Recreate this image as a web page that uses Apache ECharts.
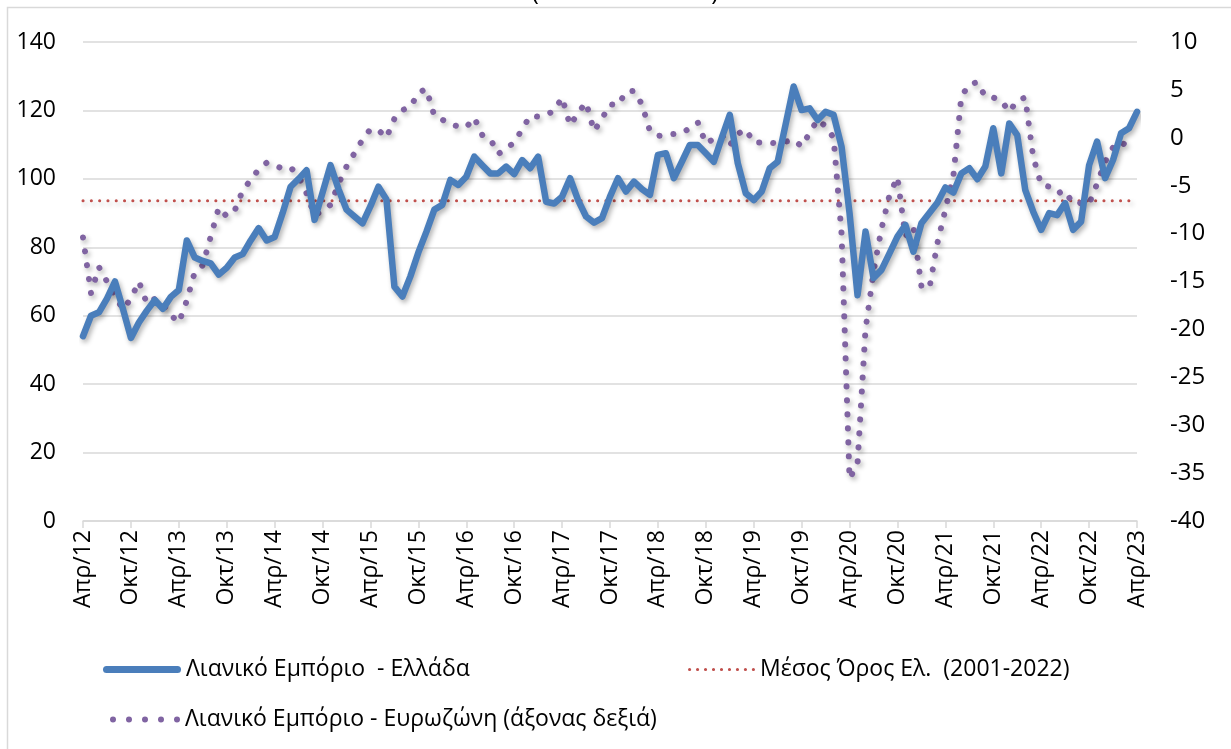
<!DOCTYPE html>
<html>
<head>
<meta charset="utf-8">
<title>Λιανικό Εμπόριο</title>
<script src="https://cdn.jsdelivr.net/npm/echarts@6/dist/echarts.min.js"></script>
<style>
  html, body { margin: 0; padding: 0; background: #fff; }
  #chart { width: 1231px; height: 749px; }
</style>
</head>
<body>
<div id="chart"></div>
<script>
// months Apr/12 .. Apr/23
const monthNames = ['Ιαν', 'Φεβ', 'Μαρ', 'Απρ', 'Μαϊ', 'Ιουν', 'Ιουλ', 'Αυγ', 'Σεπ', 'Οκτ', 'Νοε', 'Δεκ']
const startYear = 2012, startMonth = 3, monthCount = 133

const greece = [
  54, 60, 61, 65, 70, 62, 53.5, 58, 61.5, 64.6, 62, 65.5, 67.5, 82,
  77, 76, 75.3, 72, 74, 77, 78, 82, 85.6, 82, 83, 90, 97.7, 100, 102.5,
  88, 96, 104, 97, 91, 89, 87, 92, 97.7, 94, 68.5, 65.6, 71.5, 78.5,
  84.5, 91, 92.4, 99.7, 98.2, 100.6, 106.5, 104, 101.6, 101.6, 103.6,
  101.4, 105.5, 103.1, 106.5, 93.3, 92.8, 94.8, 100.2, 93.8, 89, 87.2,
  88.5, 94.8, 100.2, 96.3, 99.2, 97, 95.3, 107, 107.5, 100.2, 105, 109.9,
  109.9, 107.5, 105, 112, 118.7, 104.6, 95.8, 93.8, 96.3, 103.1, 105, 116,
  127, 120.1, 120.6, 117.2, 119.6, 118.7, 109.4, 90, 66, 84.6, 71, 73.4,
  78.2, 83.1, 86.5, 78.7, 87, 90, 93, 97.5, 96, 101.6, 103.1, 99.9,
  103.6, 114.8, 101.6, 116.2, 112.8, 96.8, 90.4, 85.1, 90, 89.4, 92.9,
  85.1, 87.5, 104, 110.9, 100.2, 105.5, 113.3, 114.8, 119.6
]

const eurozone = [
  -10.4, -16.2, -13.5, -15, -16.5, -17.9, -16.8, -15, -17.3, -16.8, -17.3,
  -18.5, -19.3, -17, -14, -13.3, -10.3, -7.3, -8.2, -7.6, -5.5, -4.4, -3.3,
  -2.6, -2.9, -3.2, -3.1, -4, -5.8, -8.1, -7.6, -7, -4.8, -3, -1.6, -0.2,
  0.9, 0.8, 0, 2, 2.9, 3.2, 4.7, 5.1, 2.3, 1.9, 1.4, 1.2, 1.1, 2.1, 0.3,
  -0.1, -1.7, -1.1, -0.5, 0.9, 2.3, 2.2, 2.4, 2.8, 4.2, 1.3, 2.6, 3.7, 0.7,
  2, 3.5, 3.4, 4.8, 4.9, 3.5, 0.7, 0.2, 0.3, 0.4, 0.5, 1, 1.6, -0.6, -0.1,
  0.3, -0.8, 0.4, 0.9, -0.5, -0.5, -0.5, -0.6, -0.4, -0.2, -0.9, 0.5, 1.9,
  1.2, 0, -10, -35.6, -34, -20, -14, -9.5, -6, -4.1, -10.3, -9.3, -15.5,
  -15.7, -11, -7.5, -4, 4.3, 5.6, 5.8, 4.3, 4.2, 3.9, 2.7, 3.9, 4.2, -2,
  -4.9, -5.1, -5.3, -6.5, -6.1, -6.9, -6.9, -4.8, -2.5, -1, -0.4, -1.1, null
]

const greeceMean = 93.6

const leftTicks = { min: 0, max: 140, interval: 20 }
const rightTicks = { min: -40, max: 10, interval: 5 }

const names = {
  greece: 'Λιανικό Εμπόριο  - Ελλάδα',
  mean: 'Μέσος Όρος Ελ.  (2001-2022)',
  euro: 'Λιανικό Εμπόριο - Ευρωζώνη (άξονας δεξιά)'
}

const categories = []
for (let i = 0; i < monthCount; i++) {
  const m = (startMonth + i) % 12
  const y = startYear + Math.floor((startMonth + i) / 12)
  categories.push(monthNames[m] + '/' + String(y).slice(2))
}

// legend icons: a row of dots, and a capsule for the solid line
function dotsIcon(n, r, step) {
  let p = ''
  for (let i = 0; i < n; i++) {
    const cx = r + i * step
    p += 'M' + (cx - r) + ',' + r + ' a' + r + ',' + r + ' 0 1,0 ' + (2 * r) + ',0 a' + r + ',' + r + ' 0 1,0 ' + (-2 * r) + ',0 Z '
  }
  return 'path://' + p
}
const capsuleIcon = 'path://M3.5,0 L74.5,0 A3.5,3.5 0 0,1 74.5,7 L3.5,7 A3.5,3.5 0 0,1 3.5,0 Z'

const FONT = 'Open Sans'
const shadow = {
  shadowColor: 'rgba(0,0,0,0.3)',
  shadowBlur: 5,
  shadowOffsetX: 2,
  shadowOffsetY: 3
}
const legendText = { fontFamily: FONT, fontSize: 23, color: '#000' }

const chart = echarts.init(document.getElementById('chart'))
chart.setOption({
  animation: false,
  backgroundColor: '#fff',
  textStyle: { fontFamily: FONT, color: '#000' },
  graphic: [
    {
      type: 'rect',
      shape: { x: 7.5, y: 7.5, width: 1400, height: 900 },
      style: { fill: 'none', stroke: '#d9d9d9', lineWidth: 1.5 },
      silent: true
    },
    {
      type: 'text',
      x: 625,
      y: 5,
      style: {
        text: '(2000-2010=100)',
        fontFamily: FONT,
        fontSize: 24,
        fill: '#000',
        align: 'center',
        verticalAlign: 'bottom'
      }
    }
  ],
  grid: { left: 83, right: 94, top: 42, bottom: 228 },
  legend: [
    {
      left: 98, top: 653, data: [names.greece],
      icon: capsuleIcon, itemWidth: 78, itemHeight: 7,
      textStyle: legendText
    },
    {
      left: 683, top: 653, data: [names.mean],
      icon: dotsIcon(9, 1.6, 8), itemWidth: 67, itemHeight: 3.2,
      textStyle: legendText
    },
    {
      left: 105, top: 703, data: [names.euro],
      icon: dotsIcon(5, 3, 16), itemWidth: 70, itemHeight: 6,
      textStyle: legendText
    }
  ],
  xAxis: {
    type: 'category',
    data: categories,
    boundaryGap: false,
    axisLine: { lineStyle: { color: '#d9d9d9', width: 1.5 } },
    axisTick: {
      interval: (i) => i % 6 === 0,
      length: 7,
      lineStyle: { color: '#d9d9d9', width: 1.5 }
    },
    axisLabel: {
      interval: (i) => i % 6 === 0,
      rotate: 90,
      margin: 9,
      fontFamily: FONT,
      fontSize: 23,
      color: '#000'
    },
    splitLine: { show: false }
  },
  yAxis: [
    {
      type: 'value',
      min: leftTicks.min, max: leftTicks.max, interval: leftTicks.interval,
      axisLine: { show: false },
      axisTick: { show: false },
      axisLabel: { margin: 27, fontFamily: FONT, fontSize: 23, color: '#000' },
      splitLine: { lineStyle: { color: '#d9d9d9', width: 1.5 } }
    },
    {
      type: 'value',
      position: 'right',
      min: rightTicks.min, max: rightTicks.max, interval: rightTicks.interval,
      axisLine: { show: false },
      axisTick: { show: false },
      axisLabel: { margin: 33, fontFamily: FONT, fontSize: 24, color: '#000' },
      splitLine: { show: false }
    }
  ],
  series: [
    {
      name: names.greece,
      type: 'line',
      data: greece,
      yAxisIndex: 0,
      symbol: 'none',
      z: 3,
      itemStyle: { color: '#4A7EBB' },
      lineStyle: Object.assign({ color: '#4A7EBB', width: 6.5, join: 'round', cap: 'round' }, shadow)
    },
    {
      name: names.mean,
      type: 'line',
      data: categories.map(() => greeceMean),
      yAxisIndex: 0,
      symbol: 'none',
      z: 2,
      itemStyle: { color: '#C0504D' },
      lineStyle: Object.assign({ color: '#C0504D', width: 3, type: [0.1, 8.2], cap: 'round' }, shadow)
    },
    {
      name: names.euro,
      type: 'line',
      data: eurozone,
      yAxisIndex: 1,
      symbol: 'none',
      z: 2,
      itemStyle: { color: '#8064A2' },
      lineStyle: Object.assign({ color: '#8064A2', width: 6, type: [0.1, 13.9], cap: 'round', join: 'round' }, shadow)
    }
  ]
})
</script>
</body>
</html>
